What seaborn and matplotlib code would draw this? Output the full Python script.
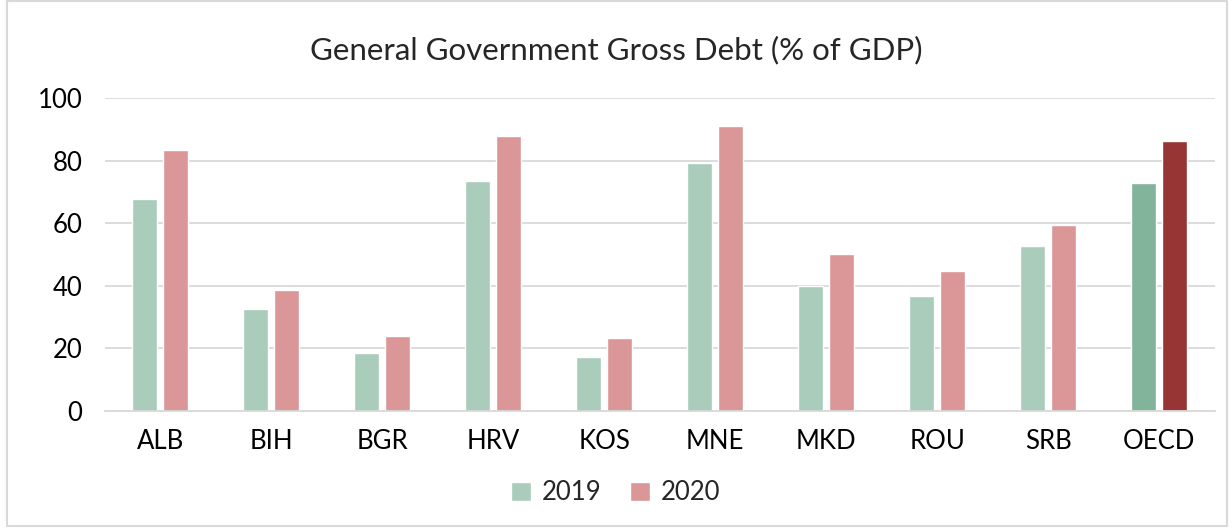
import matplotlib
matplotlib.use("Agg")
import matplotlib.pyplot as plt
import seaborn as sns
import pandas as pd
from matplotlib.patches import Rectangle, Patch

categories = ["ALB", "BIH", "BGR", "HRV", "KOS", "MNE", "MKD", "ROU", "SRB", "OECD"]
values_2019 = [67.7, 32.6, 18.5, 73.5, 17.3, 79.2, 40.0, 36.7, 52.7, 72.8]
values_2020 = [83.4, 38.7, 24.0, 87.9, 23.3, 91.0, 50.2, 44.7, 59.4, 86.3]
years = ["2019", "2020"]
yticks = [0, 20, 40, 60, 80, 100]

df = pd.DataFrame({
    "country": categories * 2,
    "year": [years[0]] * len(categories) + [years[1]] * len(categories),
    "value": values_2019 + values_2020,
})

sns.set_theme(style="white")
plt.rcParams["font.family"] = ["Lato", "DejaVu Sans"]

c19, c20 = "#A9CCBB", "#DB9797"
c19_oecd, c20_oecd = "#82B39B", "#963534"

fig = plt.figure(figsize=(12.32, 5.28), dpi=100)
ax = fig.add_axes([0.085, 0.2216, 0.901, 0.5928])

sns.barplot(data=df, x="country", y="value", hue="year", order=categories,
            hue_order=years, palette=[c19, c20], width=0.56, gap=0.2,
            ax=ax, legend=False, saturation=1)

# recolor OECD bars
n = len(categories)
bars = [p for p in ax.patches if isinstance(p, Rectangle)]
for i, p in enumerate(bars[:2 * n]):
    idx = i % n
    if categories[idx] == "OECD":
        p.set_facecolor(c19_oecd if i < n else c20_oecd)

ax.set_xlim(-0.5, n - 0.5)
ax.set_ylim(0, 100)
ax.set_yticks(yticks)
ax.set_yticklabels([str(t) for t in yticks])
ax.yaxis.grid(True, color="#D9D9D9", linewidth=1.3)
ax.set_axisbelow(True)
for s in ["top", "right", "left"]:
    ax.spines[s].set_visible(False)
ax.spines["bottom"].set_color("#D9D9D9")
ax.spines["bottom"].set_linewidth(1.3)
ax.tick_params(axis="both", length=0, labelsize=18.5, colors="black")
ax.tick_params(axis="x", pad=13)
ax.tick_params(axis="y", pad=16)
ax.set_xlabel("")
ax.set_ylabel("")

fig.suptitle("General Government Gross Debt (% of GDP)", fontsize=22.5, y=0.932)

handles = [Patch(facecolor=c19), Patch(facecolor=c20)]
fig.legend(handles, years, loc="center", bbox_to_anchor=(0.5, 0.067), ncol=2,
           frameon=False, fontsize=18.5, handlelength=0.75, handleheight=0.75,
           handletextpad=0.45, columnspacing=1.1)

fig.patches.append(Rectangle((0.006, 0.004), 0.99, 0.995, transform=fig.transFigure,
                             fill=False, edgecolor="#D9D9D9", linewidth=1.5))

fig.savefig("out.png", dpi=100)
